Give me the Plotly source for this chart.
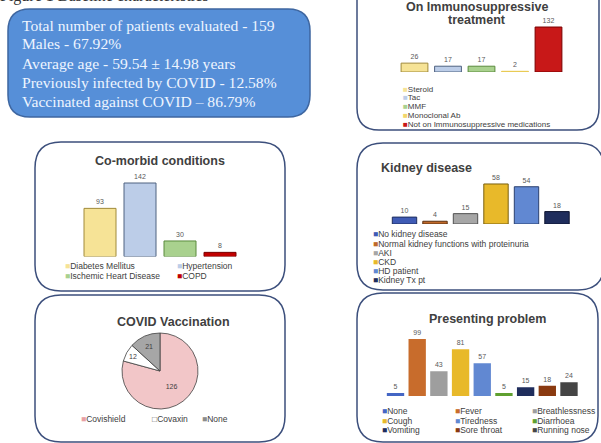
import plotly.graph_objects as go

# ---- data -------------------------------------------------------------
summary_lines = [
    "Total number of patients evaluated - 159",
    "Males - 67.92%",
    "Average age - 59.54 \u00b1 14.98 years",
    "Previously infected by COVID - 12.58%",
    "Vaccinated against COVID \u2013 86.79%",
]

comorbid_cats = ["Diabetes Mellitus", "Hypertension", "Ischemic Heart Disease", "COPD"]
comorbid_vals = [93, 142, 30, 8]

immuno_cats = ["Steroid", "Tac", "MMF", "Monoclonal Ab",
               "Not on Immunosuppressive medications"]
immuno_vals = [26, 17, 17, 2, 132]

kidney_cats = ["No kidney disease", "Normal kidney functions with proteinuria",
               "AKI", "CKD", "HD patient", "Kidney Tx pt"]
kidney_vals = [10, 4, 15, 58, 54, 18]

vacc_cats = ["Covishield", "Covaxin", "None"]
vacc_vals = [126, 12, 21]

problem_cats = ["None", "Fever", "Breathlessness", "Cough", "Tiredness",
                "Diarrhoea", "Vomiting", "Sore throat", "Running nose"]
problem_vals = [5, 99, 43, 81, 57, 5, 15, 18, 24]

# ---- styling ----------------------------------------------------------
comorbid_fill = ["#f6e396", "#bccde8", "#a9d18e", "#c00000"]
comorbid_edge = ["#a08a3a", "#4f6280", "#5a8a3c", "#7a0000"]
immuno_fill = ["#f6e396", "#bccde8", "#a9d18e", "#f2d66a", "#c81818"]
immuno_edge = ["#a08a3a", "#4f6280", "#5a8a3c", "#e8c850", "#7a0000"]
kidney_fill = ["#3f5bb5", "#c0692a", "#a6a6a6", "#e8b92a", "#6188d2", "#1f2d5c"]
kidney_edge = ["#1f2f60", "#5a3010", "#505050", "#7a6010", "#2a4070", "#0f1530"]
vacc_fill = ["#f2c6c8", "#ffffff", "#a6a6a6"]
vacc_key = ["#e8a0a4", "#606060", "#8c8c8c"]
problem_fill = ["#4466c4", "#c86c2c", "#9e9e9e", "#e8b92a", "#6188d2",
                "#5fa030", "#1f2d5c", "#8a3a10", "#454545"]

W, H = 601, 443
SANS = "Liberation Sans, Arial, sans-serif"
SERIF = "Liberation Serif, Times New Roman, serif"
TXT = "#404040"
EDGE = "#3c4f7c"
KEY_SIZE = 8.5


def px(x):
    return x / W


def py(y):
    return 1 - y / H


def rounded_box(x0, y0, x1, y1, r):
    pts = [
        ("M", [(x0 + r, y0)]), ("L", [(x1 - r, y0)]), ("Q", [(x1, y0), (x1, y0 + r)]),
        ("L", [(x1, y1 - r)]), ("Q", [(x1, y1), (x1 - r, y1)]),
        ("L", [(x0 + r, y1)]), ("Q", [(x0, y1), (x0, y1 - r)]),
        ("L", [(x0, y0 + r)]), ("Q", [(x0, y0), (x0 + r, y0)]),
    ]
    parts = []
    for cmd, coords in pts:
        parts.append(cmd + " " + " ".join(f"{px(a):.5f},{py(b):.5f}" for a, b in coords))
    return " ".join(parts) + " Z"


fig = go.Figure()

# ---- bar panels -------------------------------------------------------
panels = [
    # axis id, categories, values, fills, edges, x-domain px, baseline px, top px, y max, edge width
    (1, comorbid_cats, comorbid_vals, comorbid_fill, comorbid_edge, (80, 240), 256.5, 173.7, 160, 1.0),
    (2, immuno_cats, immuno_vals, immuno_fill, immuno_edge, (397.75, 565.25), 72, 20.9, 150, 1.0),
    (3, kidney_cats, kidney_vals, kidney_fill, kidney_edge, (389.25, 572.25), 224, 175.7, 70, 1.0),
    (4, problem_cats, problem_vals, problem_fill, problem_fill, (384.66, 579.84), 396, 329.8, 115, 0.0),
]

layout_axes = {}
for aid, cats, vals, fills, edges, (xl, xr), ybase, ytop, ymax, lw in panels:
    sfx = "" if aid == 1 else str(aid)
    fig.add_trace(go.Bar(
        x=list(range(len(cats))), y=vals, width=0.8,
        marker=dict(color=fills, line=dict(color=edges, width=lw)),
        text=[str(v) for v in vals], textposition="outside",
        textfont=dict(family=SANS, size=7, color="#595959"),
        cliponaxis=False, showlegend=False, hoverinfo="skip",
        xaxis="x" + sfx, yaxis="y" + sfx,
    ))
    layout_axes["xaxis" + sfx] = dict(
        domain=[px(xl), px(xr)], range=[-0.5, len(cats) - 0.5], visible=False,
        anchor="y" + sfx, fixedrange=True)
    layout_axes["yaxis" + sfx] = dict(
        domain=[py(ybase), py(ytop)], range=[0, ymax], visible=False,
        anchor="x" + sfx, fixedrange=True)

# ---- vaccination pie --------------------------------------------------
fig.add_trace(go.Pie(
    labels=vacc_cats, values=vacc_vals, sort=False, direction="clockwise", rotation=0,
    marker=dict(colors=vacc_fill, line=dict(color="#404040", width=0.8)),
    textinfo="value", textposition="inside",
    insidetextfont=dict(family=SANS, size=7, color=TXT),
    domain=dict(x=[px(122), px(198)], y=[py(409), py(333)]),
    showlegend=False, hoverinfo="skip",
))

# ---- panel frames -----------------------------------------------------
shapes = [
    dict(type="path", path=rounded_box(8, 9, 310, 117, 22), xref="paper", yref="paper",
         fillcolor="#568fd8", line=dict(color="#3e66a0", width=1.5), layer="below"),
    dict(type="path", path=rounded_box(35, 142, 285, 291, 26), xref="paper", yref="paper",
         fillcolor="rgba(0,0,0,0)", line=dict(color=EDGE, width=1.5), layer="below"),
    dict(type="path", path=rounded_box(35, 295, 285, 442, 26), xref="paper", yref="paper",
         fillcolor="rgba(0,0,0,0)", line=dict(color=EDGE, width=1.5), layer="below"),
    dict(type="path", path=rounded_box(357, -30, 599, 130, 22), xref="paper", yref="paper",
         fillcolor="rgba(0,0,0,0)", line=dict(color=EDGE, width=1.5), layer="below"),
    dict(type="path", path=rounded_box(357, 143, 604, 290, 26), xref="paper", yref="paper",
         fillcolor="rgba(0,0,0,0)", line=dict(color=EDGE, width=1.5), layer="below"),
    dict(type="path", path=rounded_box(357, 293, 598, 442, 26), xref="paper", yref="paper",
         fillcolor="rgba(0,0,0,0)", line=dict(color=EDGE, width=1.5), layer="below"),
]

# ---- text -------------------------------------------------------------
ann = []


def text(x, y, s, size, xanchor="center", family=SANS, color=TXT, bold=False):
    ann.append(dict(
        x=px(x), y=py(y), xref="paper", yref="paper", text=f"<b>{s}</b>" if bold else s,
        showarrow=False, xanchor=xanchor, yanchor="middle",
        font=dict(family=family, size=size, color=color)))


def key(x, y, name, color, glyph="\u25a0", size=KEY_SIZE):
    text(x, y, f"<span style='color:{color}'>{glyph}</span>{name}", size, xanchor="left")


# figure heading, running off the top edge
text(-2, -4, "Figure 1 Baseline characteristics", 16, xanchor="left", family=SERIF, color="#333333")

# summary box
for line, yy in zip(summary_lines, [25, 44, 63, 82.5, 101.5]):
    text(20, yy, line, 15.6, xanchor="left", family=SERIF, color="#eef5ff")

# panel titles
text(160, 161, "Co-morbid conditions", 12.5, bold=True)
text(477, 7.5, "On Immunosuppressive", 12.5, bold=True)
text(477, 20, "treatment", 12.5, bold=True)
text(379, 168, "Kidney disease", 12.5, xanchor="left", bold=True)
text(173, 322, "COVID Vaccination", 12.5, bold=True)
text(488, 319, "Presenting problem", 12.5, bold=True)

# keys
for i, (name, c) in enumerate(zip(comorbid_cats, comorbid_fill)):
    key([63, 175][i % 2], [266, 276][i // 2], name, c)
for i, (name, c) in enumerate(zip(immuno_cats, immuno_fill)):
    key(401, 89 + 8.75 * i, name, c, size=8)
for i, (name, c) in enumerate(zip(kidney_cats, kidney_fill)):
    key(371, 234.3 + 9.2 * i, name, c)
for name, c, xx, fill in zip(vacc_cats, vacc_key, [79, 150, 200], vacc_fill):
    key(xx, 419, name, c, "\u25a1" if fill == "#ffffff" else "\u25a0")
for i, (name, c) in enumerate(zip(problem_cats, problem_fill)):
    key([380, 453, 530][i % 3], [411, 420.7, 430][i // 3], name, c)

fig.update_layout(
    width=W, height=H, margin=dict(l=0, r=0, t=0, b=0),
    paper_bgcolor="white", plot_bgcolor="rgba(0,0,0,0)",
    showlegend=False, shapes=shapes, annotations=ann, **layout_axes,
)

fig.write_html("out.html")
